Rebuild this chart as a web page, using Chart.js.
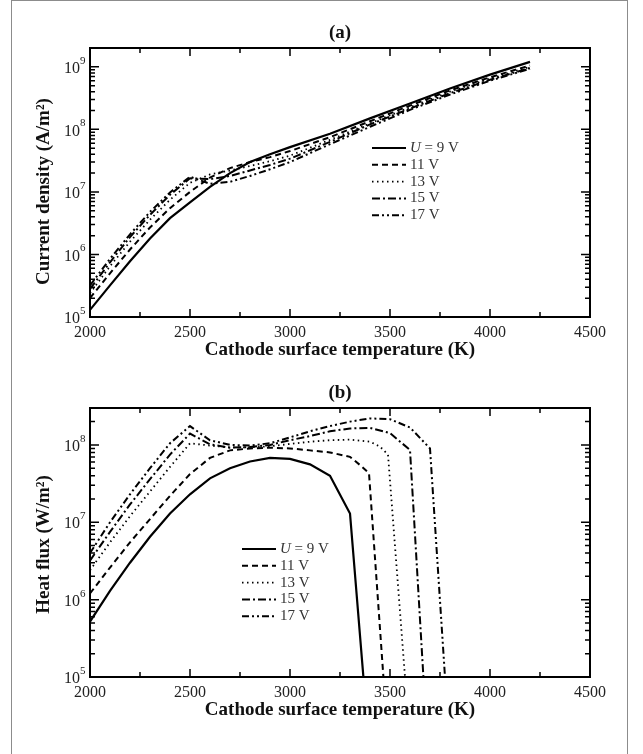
<!DOCTYPE html>
<html>
<head>
<meta charset="utf-8">
<script src="https://cdn.jsdelivr.net/npm/chart.js@4.4.0/dist/chart.umd.min.js"></script>
<style>
  body { margin: 0; background: #fff; }
  #frame { position: absolute; left: 11px; top: 0; width: 617px; height: 780px; border: 1.5px solid #8c8c8c; box-sizing: border-box; }
  canvas { position: absolute; left: 0; }
</style>
</head>
<body>
<div id="frame"></div>
<canvas id="chartA" width="643" height="377" style="top:0"></canvas>
<canvas id="chartB" width="643" height="377" style="top:377px"></canvas>
<script>
// ---- data ----
const voltLabels = ['U = 9 V', '11 V', '13 V', '15 V', '17 V'];
const xTickLabels = [2000, 2500, 3000, 3500, 4000, 4500];
const yExpA = [5, 6, 7, 8, 9];
const yExpB = [5, 6, 7, 8];

// (a) current density, A/m2
const tempA = [2000, 2100, 2200, 2300, 2400, 2500, 2600, 2700, 2800, 2900, 3000, 3200, 3400, 3600, 3800, 4000, 4200];
const jU9  = [1.3e5, 3.2e5, 7.8e5, 1.8e6, 3.8e6, 6.8e6, 1.2e7, 2.0e7, 3.0e7, 4.0e7, 5.2e7, 8.5e7, 1.5e8, 2.6e8, 4.5e8, 7.5e8, 1.2e9];
const jU11 = [2.0e5, 5.0e5, 1.2e6, 2.7e6, 5.5e6, 1.0e7, 1.7e7, 2.4e7, 3.0e7, 3.6e7, 4.5e7, 7.5e7, 1.35e8, 2.4e8, 4.2e8, 6.8e8, 1.05e9];
const jU13 = [2.4e5, 6.5e5, 1.6e6, 3.6e6, 7.5e6, 1.4e7, 1.9e7, 2.2e7, 2.6e7, 3.1e7, 3.8e7, 6.8e7, 1.25e8, 2.25e8, 4.0e8, 6.5e8, 1.0e9];
const jU15 = [2.8e5, 7.5e5, 1.9e6, 4.3e6, 9.0e6, 1.65e7, 1.6e7, 1.8e7, 2.2e7, 2.7e7, 3.4e7, 6.3e7, 1.2e8, 2.15e8, 3.8e8, 6.2e8, 9.6e8];
const jU17 = [3.2e5, 8.5e5, 2.1e6, 4.8e6, 9.8e6, 1.75e7, 1.35e7, 1.45e7, 1.8e7, 2.3e7, 3.0e7, 5.8e7, 1.1e8, 2.05e8, 3.6e8, 6.0e8, 9.3e8];

// (b) heat flux, W/m2
const tempB9  = [2000, 2100, 2200, 2300, 2400, 2500, 2600, 2700, 2800, 2900, 3000, 3100, 3200, 3300, 3367];
const qU9     = [5.2e5, 1.3e6, 3.0e6, 6.5e6, 1.3e7, 2.3e7, 3.7e7, 5.0e7, 6.1e7, 6.8e7, 6.6e7, 5.6e7, 4.0e7, 1.3e7, 1e5];
const tempB11 = [2000, 2100, 2200, 2300, 2400, 2500, 2600, 2700, 2800, 2900, 3000, 3100, 3200, 3300, 3350, 3395, 3467];
const qU11    = [1.2e6, 2.6e6, 5.5e6, 1.1e7, 2.2e7, 4.2e7, 6.8e7, 8.5e7, 9.0e7, 9.2e7, 9.0e7, 8.5e7, 8.0e7, 7.0e7, 5.5e7, 4.3e7, 1e5];
const tempB13 = [2000, 2100, 2200, 2300, 2400, 2500, 2600, 2700, 2800, 2900, 3000, 3100, 3200, 3300, 3400, 3450, 3490, 3575];
const qU13    = [2.4e6, 5.5e6, 1.2e7, 2.5e7, 5.2e7, 1.05e8, 9.8e7, 9.3e7, 9.3e7, 9.6e7, 1.03e8, 1.1e8, 1.15e8, 1.17e8, 1.1e8, 9.5e7, 7.5e7, 1e5];
const tempB15 = [2000, 2100, 2200, 2300, 2400, 2500, 2600, 2700, 2800, 2900, 3000, 3100, 3200, 3300, 3400, 3500, 3600, 3667];
const qU15    = [3.2e6, 7.5e6, 1.7e7, 3.6e7, 7.5e7, 1.4e8, 1.02e8, 9.2e7, 9.4e7, 1.0e8, 1.15e8, 1.3e8, 1.5e8, 1.63e8, 1.66e8, 1.42e8, 8.6e7, 1e5];
const tempB17 = [2000, 2100, 2200, 2300, 2400, 2500, 2600, 2700, 2800, 2900, 3000, 3100, 3200, 3300, 3400, 3500, 3600, 3700, 3775];
const qU17    = [4.0e6, 1.0e7, 2.3e7, 5.0e7, 1.05e8, 1.75e8, 1.15e8, 1.0e8, 9.8e7, 1.05e8, 1.25e8, 1.5e8, 1.75e8, 2.0e8, 2.2e8, 2.15e8, 1.68e8, 9.0e7, 1e5];

// ---- styles ----
const serif = '"Liberation Serif", "Times New Roman", serif';
const lineStyles = [
  { dash: [], width: 2.2 },
  { dash: [6, 4], width: 2 },
  { dash: [1.5, 3.5], width: 1.8 },
  { dash: [8, 3, 2, 3], width: 2 },
  { dash: [7, 3, 2, 3, 2, 3], width: 2 }
];

function pts(xs, ys) { return xs.map((x, i) => ({ x: x, y: ys[i] })); }

function makeDatasets(series) {
  return series.map((s, i) => ({
    label: voltLabels[i],
    data: s,
    borderColor: '#000',
    borderWidth: lineStyles[i].width,
    borderDash: lineStyles[i].dash,
    pointRadius: 0,
    fill: false,
    tension: 0
  }));
}

function panelPlugin(p) {
  return {
    id: 'panel',
    afterDatasetsDraw(chart) {
      const ctx = chart.ctx, a = chart.chartArea;
      const xs = chart.scales.x, ys = chart.scales.y;
      ctx.save();
      ctx.setLineDash([]);
      ctx.strokeStyle = '#000';
      ctx.lineWidth = 2;
      ctx.strokeRect(a.left, a.top, a.right - a.left, a.bottom - a.top);

      // inward ticks
      ctx.lineWidth = 1.5;
      ctx.beginPath();
      for (let v = xs.min; v <= xs.max; v += 250) {
        const px = xs.getPixelForValue(v);
        const len = v % 500 === 0 ? 8 : 5;
        ctx.moveTo(px, a.bottom); ctx.lineTo(px, a.bottom - len);
        ctx.moveTo(px, a.top); ctx.lineTo(px, a.top + len);
      }
      const e0 = Math.floor(Math.log10(ys.min)), e1 = Math.ceil(Math.log10(ys.max));
      for (let e = e0; e <= e1; e++) {
        for (let m = 1; m <= 9; m++) {
          const v = m * Math.pow(10, e);
          if (v < ys.min * 0.999 || v > ys.max * 1.001) continue;
          const py = ys.getPixelForValue(v);
          const len = m === 1 ? 9 : 5;
          ctx.moveTo(a.left, py); ctx.lineTo(a.left + len, py);
          ctx.moveTo(a.right, py); ctx.lineTo(a.right - len, py);
        }
      }
      ctx.stroke();

      // tick labels
      ctx.fillStyle = '#222';
      ctx.font = '16px ' + serif;
      ctx.textAlign = 'center';
      ctx.textBaseline = 'middle';
      xTickLabels.forEach(v => ctx.fillText(String(v), xs.getPixelForValue(v), a.bottom + 16));
      p.yExp.forEach(e => {
        const py = ys.getPixelForValue(Math.pow(10, e));
        ctx.font = '16px ' + serif;
        ctx.textAlign = 'right';
        ctx.fillText('10', a.left - 10, py + 2);
        ctx.font = '11px ' + serif;
        ctx.textAlign = 'left';
        ctx.fillText(String(e), a.left - 10, py - 6);
      });

      // titles
      ctx.fillStyle = '#111';
      ctx.font = 'bold 19px ' + serif;
      ctx.textAlign = 'center';
      const cx = (a.left + a.right) / 2;
      ctx.fillText(p.title, cx, a.top - 15);
      ctx.fillText('Cathode surface temperature (K)', cx, a.bottom + 33);
      ctx.save();
      ctx.translate(44, (a.top + a.bottom) / 2 + p.yTitleShift);
      ctx.rotate(-Math.PI / 2);
      ctx.fillText(p.yTitle, 0, 0);
      ctx.restore();

      // legend
      chart.data.datasets.forEach((ds, i) => {
        const y = p.legY + i * p.legGap;
        ctx.strokeStyle = '#000';
        ctx.lineWidth = ds.borderWidth;
        ctx.setLineDash(ds.borderDash);
        ctx.beginPath();
        ctx.moveTo(p.legX, y); ctx.lineTo(p.legX + 34, y);
        ctx.stroke();
        ctx.setLineDash([]);
        ctx.fillStyle = '#333';
        ctx.textAlign = 'left';
        let tx = p.legX + 38;
        let txt = ds.label;
        if (txt.startsWith('U')) {
          ctx.font = 'italic 15px ' + serif;
          ctx.fillText('U', tx, y);
          tx += ctx.measureText('U').width;
          txt = txt.slice(1);
        }
        ctx.font = '15px ' + serif;
        ctx.fillText(txt, tx, y);
      });
      ctx.restore();
    }
  };
}

function makeChart(id, datasets, ymax, padding, p) {
  return new Chart(document.getElementById(id), {
    type: 'line',
    data: { datasets: datasets },
    options: {
      responsive: false,
      animation: false,
      events: [],
      layout: { padding: padding },
      scales: {
        x: { type: 'linear', min: 2000, max: 4500, display: false },
        y: { type: 'logarithmic', min: 1e5, max: ymax, display: false }
      },
      plugins: { legend: { display: false }, tooltip: { enabled: false } }
    },
    plugins: [panelPlugin(p)]
  });
}

makeChart('chartA',
  makeDatasets([pts(tempA, jU9), pts(tempA, jU11), pts(tempA, jU13), pts(tempA, jU15), pts(tempA, jU17)]),
  2e9,
  { left: 90, top: 48, right: 53, bottom: 60 },
  { title: '(a)', yTitle: 'Current density (A/m\u00B2)', yTitleShift: 9, yExp: yExpA, legX: 372, legY: 148, legGap: 16.8 });

makeChart('chartB',
  makeDatasets([pts(tempB9, qU9), pts(tempB11, qU11), pts(tempB13, qU13), pts(tempB15, qU15), pts(tempB17, qU17)]),
  3e8,
  { left: 90, top: 31, right: 53, bottom: 77 },
  { title: '(b)', yTitle: 'Heat flux (W/m\u00B2)', yTitleShift: 2, yExp: yExpB, legX: 242, legY: 172, legGap: 16.8 });
</script>
</body>
</html>
